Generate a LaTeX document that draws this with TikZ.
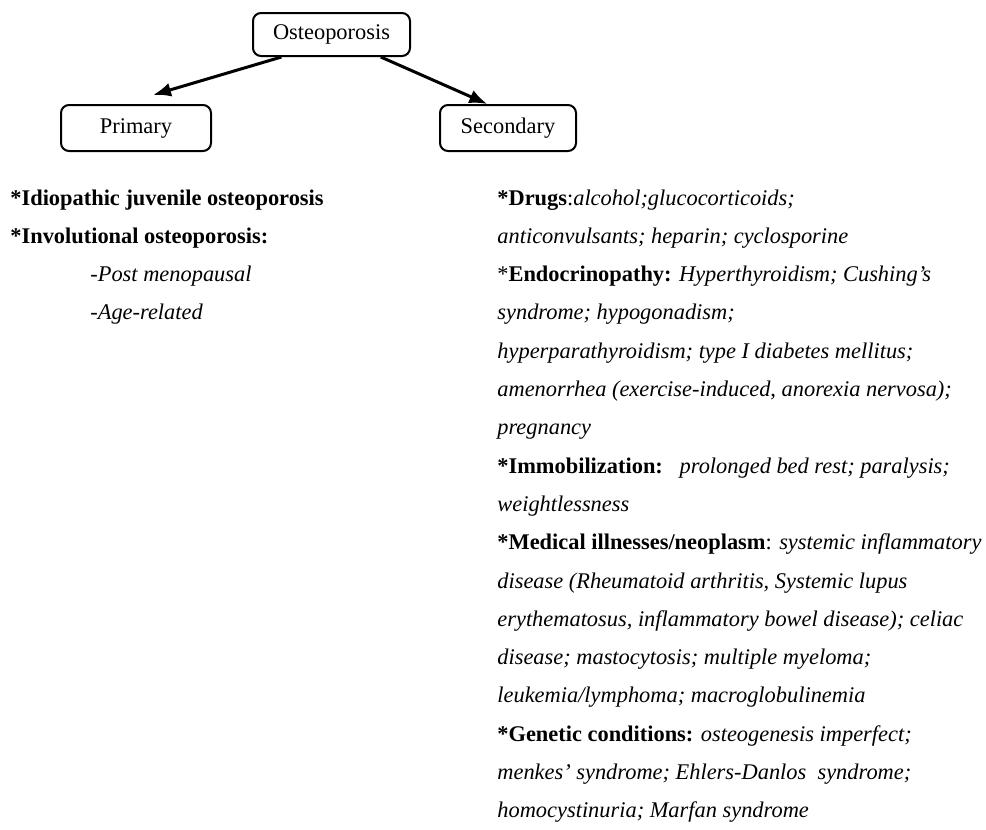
\documentclass[tikz,border=0pt]{standalone}
\usepackage{fontspec}
\setmainfont{Liberation Serif}
\usepackage{tikz}
\usetikzlibrary{calc,arrows.meta}

\begin{document}
\begin{tikzpicture}[x=0.5pt,y=-0.5pt,
    font=\fontsize{11.2}{13}\selectfont,
    box/.style={draw,line width=1pt,rounded corners=4pt,inner sep=0pt,
      minimum height=23pt},
    txt/.style={anchor=base west,inner sep=0pt},
    >={Latex[length=9pt,width=7pt]}]
  \useasboundingbox (0,0) rectangle (986,830);
  % Boxes
  \node[box,minimum width=78.5pt,minimum height=21.5pt] (osteo) at (331.5,34.5) {Osteoporosis};
  \node[box,minimum width=75pt] (prim) at (136,128) {Primary};
  \node[box,minimum width=68pt] (second) at (508,128) {Secondary};
  % Arrows
  \coordinate (primtip) at (153,95);
  \draw[->,line width=1.5pt] ($(osteo.south west)!0.185!(osteo.south east)$) -- (primtip);
  \draw[->,line width=1.5pt] ($(osteo.south west)!0.81!(osteo.south east)$)
    -- ($(second.north west)!0.35!(second.north east)$);
  % Primary causes
  \node[txt] (p1) at (10,205) {\textbf{*Idiopathic juvenile osteoporosis}};
  \node[txt] (p2) at (10,243.3) {\textbf{*Involutional osteoporosis:}};
  \node[txt] (p3) at (90,281.6) {\textit{-Post menopausal}};
  \node[txt] (p4) at (90,319.9) {\textit{-Age-related}};
  % Secondary causes
  \node[txt] (s1) at (497,205) {\textbf{*Drugs}:\textit{alcohol;glucocorticoids;}};
  \node[txt] (s2) at (497,243.3) {\textit{anticonvulsants; heparin; cyclosporine}};
  \node[txt] (s3) at (497,281.6) {*\textbf{Endocrinopathy:} \textit{Hyperthyroidism; Cushing’s}};
  \node[txt] (s4) at (497,319.9) {\textit{syndrome; hypogonadism;}};
  \node[txt] (s5) at (497,358.2) {\textit{hyperparathyroidism; type I diabetes mellitus;}};
  \node[txt] (s6) at (497,396.5) {\textit{amenorrhea (exercise-induced, anorexia nervosa);}};
  \node[txt] (s7) at (497,434.8) {\textit{pregnancy}};
  \node[txt] (s8) at (497,473.1) {\textbf{*Immobilization:}\ \ \ \textit{prolonged bed rest; paralysis;}};
  \node[txt] (s9) at (497,511.4) {\textit{weightlessness}};
  \node[txt] (s10) at (497,549.7) {\textbf{*Medical illnesses/neoplasm}: \textit{systemic inflammatory}};
  \node[txt] (s11) at (497,588) {\textit{disease (Rheumatoid arthritis, Systemic lupus}};
  \node[txt] (s12) at (497,626.3) {\textit{erythematosus, inflammatory bowel disease); celiac}};
  \node[txt] (s13) at (497,664.6) {\textit{disease; mastocytosis; multiple myeloma;}};
  \node[txt] (s14) at (497,702.9) {\textit{leukemia/lymphoma; macroglobulinemia}};
  \node[txt] (s15) at (497,741.2) {\textbf{*Genetic conditions:} \textit{osteogenesis imperfect;}};
  \node[txt] (s16) at (497,779.5) {\textit{menkes’ syndrome; Ehlers-Danlos\ \ syndrome;}};
  \node[txt] (s17) at (497,817.8) {\textit{homocystinuria; Marfan syndrome}};
\end{tikzpicture}
\end{document}
